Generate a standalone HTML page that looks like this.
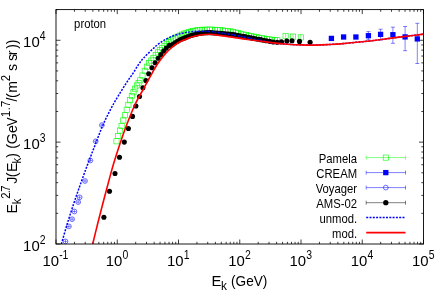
<!DOCTYPE html><html><head><meta charset="utf-8"><style>html,body{margin:0;padding:0;background:#fff;overflow:hidden}body{width:441px;height:294px;position:relative}svg{position:absolute;left:0;top:0;display:block;will-change:transform}</style></head><body><svg width="441" height="294" viewBox="0 0 441 294">
<rect width="441" height="294" fill="#fff"/>
<defs><clipPath id="c"><rect x="56.00" y="9.60" width="367.50" height="234.40"/></clipPath></defs>
<path d="M56.00,244.00v-4.50M56.00,9.60v4.50M74.44,244.00v-2.20M74.44,9.60v2.20M85.22,244.00v-2.20M85.22,9.60v2.20M92.88,244.00v-2.20M92.88,9.60v2.20M98.81,244.00v-2.20M98.81,9.60v2.20M103.66,244.00v-2.20M103.66,9.60v2.20M107.76,244.00v-2.20M107.76,9.60v2.20M111.31,244.00v-2.20M111.31,9.60v2.20M114.45,244.00v-2.20M114.45,9.60v2.20M117.25,244.00v-4.50M117.25,9.60v4.50M135.69,244.00v-2.20M135.69,9.60v2.20M146.47,244.00v-2.20M146.47,9.60v2.20M154.13,244.00v-2.20M154.13,9.60v2.20M160.06,244.00v-2.20M160.06,9.60v2.20M164.91,244.00v-2.20M164.91,9.60v2.20M169.01,244.00v-2.20M169.01,9.60v2.20M172.56,244.00v-2.20M172.56,9.60v2.20M175.70,244.00v-2.20M175.70,9.60v2.20M178.50,244.00v-4.50M178.50,9.60v4.50M196.94,244.00v-2.20M196.94,9.60v2.20M207.72,244.00v-2.20M207.72,9.60v2.20M215.38,244.00v-2.20M215.38,9.60v2.20M221.31,244.00v-2.20M221.31,9.60v2.20M226.16,244.00v-2.20M226.16,9.60v2.20M230.26,244.00v-2.20M230.26,9.60v2.20M233.81,244.00v-2.20M233.81,9.60v2.20M236.95,244.00v-2.20M236.95,9.60v2.20M239.75,244.00v-4.50M239.75,9.60v4.50M258.19,244.00v-2.20M258.19,9.60v2.20M268.97,244.00v-2.20M268.97,9.60v2.20M276.63,244.00v-2.20M276.63,9.60v2.20M282.56,244.00v-2.20M282.56,9.60v2.20M287.41,244.00v-2.20M287.41,9.60v2.20M291.51,244.00v-2.20M291.51,9.60v2.20M295.06,244.00v-2.20M295.06,9.60v2.20M298.20,244.00v-2.20M298.20,9.60v2.20M301.00,244.00v-4.50M301.00,9.60v4.50M319.44,244.00v-2.20M319.44,9.60v2.20M330.22,244.00v-2.20M330.22,9.60v2.20M337.88,244.00v-2.20M337.88,9.60v2.20M343.81,244.00v-2.20M343.81,9.60v2.20M348.66,244.00v-2.20M348.66,9.60v2.20M352.76,244.00v-2.20M352.76,9.60v2.20M356.31,244.00v-2.20M356.31,9.60v2.20M359.45,244.00v-2.20M359.45,9.60v2.20M362.25,244.00v-4.50M362.25,9.60v4.50M380.69,244.00v-2.20M380.69,9.60v2.20M391.47,244.00v-2.20M391.47,9.60v2.20M399.13,244.00v-2.20M399.13,9.60v2.20M405.06,244.00v-2.20M405.06,9.60v2.20M409.91,244.00v-2.20M409.91,9.60v2.20M414.01,244.00v-2.20M414.01,9.60v2.20M417.56,244.00v-2.20M417.56,9.60v2.20M420.70,244.00v-2.20M420.70,9.60v2.20M423.50,244.00v-4.50M423.50,9.60v4.50M56.00,244.00h4.50M423.50,244.00h-4.50M56.00,213.33h2.20M423.50,213.33h-2.20M56.00,195.40h2.20M423.50,195.40h-2.20M56.00,182.67h2.20M423.50,182.67h-2.20M56.00,172.80h2.20M423.50,172.80h-2.20M56.00,164.73h2.20M423.50,164.73h-2.20M56.00,157.91h2.20M423.50,157.91h-2.20M56.00,152.00h2.20M423.50,152.00h-2.20M56.00,146.79h2.20M423.50,146.79h-2.20M56.00,142.13h4.50M423.50,142.13h-4.50M56.00,111.47h2.20M423.50,111.47h-2.20M56.00,93.53h2.20M423.50,93.53h-2.20M56.00,80.80h2.20M423.50,80.80h-2.20M56.00,70.93h2.20M423.50,70.93h-2.20M56.00,62.86h2.20M423.50,62.86h-2.20M56.00,56.04h2.20M423.50,56.04h-2.20M56.00,50.14h2.20M423.50,50.14h-2.20M56.00,44.93h2.20M423.50,44.93h-2.20M56.00,40.27h4.50M423.50,40.27h-4.50M56.00,9.60h2.20M423.50,9.60h-2.20" stroke="#000" stroke-width="0.75" fill="none"/>
<rect x="113.90" y="138.70" width="5.2" height="5.2" fill="none" stroke="#0f0" stroke-width="0.6"/>
<rect x="115.60" y="133.40" width="5.2" height="5.2" fill="none" stroke="#0f0" stroke-width="0.6"/>
<rect x="117.30" y="127.93" width="5.2" height="5.2" fill="none" stroke="#0f0" stroke-width="0.6"/>
<rect x="119.00" y="123.40" width="5.2" height="5.2" fill="none" stroke="#0f0" stroke-width="0.6"/>
<rect x="120.70" y="117.81" width="5.2" height="5.2" fill="none" stroke="#0f0" stroke-width="0.6"/>
<rect x="122.40" y="112.71" width="5.2" height="5.2" fill="none" stroke="#0f0" stroke-width="0.6"/>
<rect x="124.10" y="107.06" width="5.2" height="5.2" fill="none" stroke="#0f0" stroke-width="0.6"/>
<rect x="125.80" y="102.18" width="5.2" height="5.2" fill="none" stroke="#0f0" stroke-width="0.6"/>
<rect x="127.50" y="97.67" width="5.2" height="5.2" fill="none" stroke="#0f0" stroke-width="0.6"/>
<rect x="129.20" y="93.42" width="5.2" height="5.2" fill="none" stroke="#0f0" stroke-width="0.6"/>
<rect x="130.90" y="89.62" width="5.2" height="5.2" fill="none" stroke="#0f0" stroke-width="0.6"/>
<rect x="132.60" y="86.04" width="5.2" height="5.2" fill="none" stroke="#0f0" stroke-width="0.6"/>
<rect x="134.30" y="82.86" width="5.2" height="5.2" fill="none" stroke="#0f0" stroke-width="0.6"/>
<rect x="136.00" y="80.48" width="5.2" height="5.2" fill="none" stroke="#0f0" stroke-width="0.6"/>
<rect x="137.70" y="77.71" width="5.2" height="5.2" fill="none" stroke="#0f0" stroke-width="0.6"/>
<rect x="139.90" y="72.92" width="5.2" height="5.2" fill="none" stroke="#0f0" stroke-width="0.6"/>
<rect x="142.10" y="68.24" width="5.2" height="5.2" fill="none" stroke="#0f0" stroke-width="0.6"/>
<rect x="144.30" y="64.06" width="5.2" height="5.2" fill="none" stroke="#0f0" stroke-width="0.6"/>
<rect x="146.50" y="60.48" width="5.2" height="5.2" fill="none" stroke="#0f0" stroke-width="0.6"/>
<rect x="148.70" y="57.96" width="5.2" height="5.2" fill="none" stroke="#0f0" stroke-width="0.6"/>
<rect x="150.90" y="55.31" width="5.2" height="5.2" fill="none" stroke="#0f0" stroke-width="0.6"/>
<rect x="153.10" y="52.54" width="5.2" height="5.2" fill="none" stroke="#0f0" stroke-width="0.6"/>
<rect x="155.30" y="49.80" width="5.2" height="5.2" fill="none" stroke="#0f0" stroke-width="0.6"/>
<rect x="157.50" y="47.60" width="5.2" height="5.2" fill="none" stroke="#0f0" stroke-width="0.6"/>
<rect x="159.70" y="45.40" width="5.2" height="5.2" fill="none" stroke="#0f0" stroke-width="0.6"/>
<rect x="161.90" y="43.33" width="5.2" height="5.2" fill="none" stroke="#0f0" stroke-width="0.6"/>
<rect x="164.10" y="41.38" width="5.2" height="5.2" fill="none" stroke="#0f0" stroke-width="0.6"/>
<rect x="166.30" y="39.46" width="5.2" height="5.2" fill="none" stroke="#0f0" stroke-width="0.6"/>
<rect x="168.50" y="37.92" width="5.2" height="5.2" fill="none" stroke="#0f0" stroke-width="0.6"/>
<rect x="170.70" y="36.39" width="5.2" height="5.2" fill="none" stroke="#0f0" stroke-width="0.6"/>
<rect x="172.90" y="35.15" width="5.2" height="5.2" fill="none" stroke="#0f0" stroke-width="0.6"/>
<rect x="175.10" y="34.05" width="5.2" height="5.2" fill="none" stroke="#0f0" stroke-width="0.6"/>
<rect x="177.30" y="32.98" width="5.2" height="5.2" fill="none" stroke="#0f0" stroke-width="0.6"/>
<rect x="179.50" y="32.01" width="5.2" height="5.2" fill="none" stroke="#0f0" stroke-width="0.6"/>
<rect x="181.70" y="31.03" width="5.2" height="5.2" fill="none" stroke="#0f0" stroke-width="0.6"/>
<rect x="183.90" y="30.34" width="5.2" height="5.2" fill="none" stroke="#0f0" stroke-width="0.6"/>
<rect x="186.10" y="29.69" width="5.2" height="5.2" fill="none" stroke="#0f0" stroke-width="0.6"/>
<rect x="188.30" y="29.10" width="5.2" height="5.2" fill="none" stroke="#0f0" stroke-width="0.6"/>
<rect x="190.50" y="28.61" width="5.2" height="5.2" fill="none" stroke="#0f0" stroke-width="0.6"/>
<rect x="192.70" y="28.12" width="5.2" height="5.2" fill="none" stroke="#0f0" stroke-width="0.6"/>
<rect x="194.90" y="27.63" width="5.2" height="5.2" fill="none" stroke="#0f0" stroke-width="0.6"/>
<rect x="197.10" y="27.28" width="5.2" height="5.2" fill="none" stroke="#0f0" stroke-width="0.6"/>
<rect x="199.30" y="27.22" width="5.2" height="5.2" fill="none" stroke="#0f0" stroke-width="0.6"/>
<rect x="201.90" y="27.15" width="5.2" height="5.2" fill="none" stroke="#0f0" stroke-width="0.6"/>
<rect x="204.50" y="27.08" width="5.2" height="5.2" fill="none" stroke="#0f0" stroke-width="0.6"/>
<rect x="207.10" y="27.01" width="5.2" height="5.2" fill="none" stroke="#0f0" stroke-width="0.6"/>
<rect x="209.70" y="27.11" width="5.2" height="5.2" fill="none" stroke="#0f0" stroke-width="0.6"/>
<rect x="212.30" y="27.23" width="5.2" height="5.2" fill="none" stroke="#0f0" stroke-width="0.6"/>
<rect x="214.90" y="27.35" width="5.2" height="5.2" fill="none" stroke="#0f0" stroke-width="0.6"/>
<rect x="217.50" y="27.59" width="5.2" height="5.2" fill="none" stroke="#0f0" stroke-width="0.6"/>
<rect x="220.10" y="27.91" width="5.2" height="5.2" fill="none" stroke="#0f0" stroke-width="0.6"/>
<rect x="222.70" y="28.24" width="5.2" height="5.2" fill="none" stroke="#0f0" stroke-width="0.6"/>
<rect x="225.30" y="28.56" width="5.2" height="5.2" fill="none" stroke="#0f0" stroke-width="0.6"/>
<rect x="227.90" y="28.89" width="5.2" height="5.2" fill="none" stroke="#0f0" stroke-width="0.6"/>
<rect x="230.50" y="29.32" width="5.2" height="5.2" fill="none" stroke="#0f0" stroke-width="0.6"/>
<rect x="233.10" y="29.97" width="5.2" height="5.2" fill="none" stroke="#0f0" stroke-width="0.6"/>
<rect x="235.70" y="30.62" width="5.2" height="5.2" fill="none" stroke="#0f0" stroke-width="0.6"/>
<rect x="238.30" y="31.27" width="5.2" height="5.2" fill="none" stroke="#0f0" stroke-width="0.6"/>
<rect x="240.90" y="31.92" width="5.2" height="5.2" fill="none" stroke="#0f0" stroke-width="0.6"/>
<rect x="243.50" y="32.56" width="5.2" height="5.2" fill="none" stroke="#0f0" stroke-width="0.6"/>
<rect x="246.10" y="33.08" width="5.2" height="5.2" fill="none" stroke="#0f0" stroke-width="0.6"/>
<rect x="248.70" y="33.59" width="5.2" height="5.2" fill="none" stroke="#0f0" stroke-width="0.6"/>
<rect x="251.30" y="34.11" width="5.2" height="5.2" fill="none" stroke="#0f0" stroke-width="0.6"/>
<rect x="253.90" y="34.62" width="5.2" height="5.2" fill="none" stroke="#0f0" stroke-width="0.6"/>
<rect x="256.50" y="35.14" width="5.2" height="5.2" fill="none" stroke="#0f0" stroke-width="0.6"/>
<rect x="259.10" y="35.61" width="5.2" height="5.2" fill="none" stroke="#0f0" stroke-width="0.6"/>
<rect x="261.70" y="36.07" width="5.2" height="5.2" fill="none" stroke="#0f0" stroke-width="0.6"/>
<rect x="264.30" y="36.47" width="5.2" height="5.2" fill="none" stroke="#0f0" stroke-width="0.6"/>
<rect x="266.90" y="36.83" width="5.2" height="5.2" fill="none" stroke="#0f0" stroke-width="0.6"/>
<rect x="269.50" y="37.20" width="5.2" height="5.2" fill="none" stroke="#0f0" stroke-width="0.6"/>
<rect x="272.10" y="37.47" width="5.2" height="5.2" fill="none" stroke="#0f0" stroke-width="0.6"/>
<rect x="274.70" y="37.70" width="5.2" height="5.2" fill="none" stroke="#0f0" stroke-width="0.6"/>
<rect x="283.00" y="33.30" width="5.2" height="5.2" fill="none" stroke="#0f0" stroke-width="0.6"/>
<rect x="290.50" y="34.00" width="5.2" height="5.2" fill="none" stroke="#0f0" stroke-width="0.6"/>
<rect x="298.20" y="34.80" width="5.2" height="5.2" fill="none" stroke="#0f0" stroke-width="0.6"/>
<path d="M285.60,33.40V38.60" stroke="#0f0" stroke-width="0.5" fill="none"/>
<path d="M293.10,33.80V39.60" stroke="#0f0" stroke-width="0.5" fill="none"/>
<path d="M300.80,34.20V40.80" stroke="#0f0" stroke-width="0.5" fill="none"/>
<circle cx="65.50" cy="241.40" r="2.4" fill="none" stroke="#00f" stroke-width="0.55"/><path d="M65.50,239.60v3.6M63.50,241.40h4" stroke="#00f" stroke-width="0.45" fill="none"/>
<circle cx="68.90" cy="226.40" r="2.4" fill="none" stroke="#00f" stroke-width="0.55"/><path d="M68.90,224.60v3.6M66.90,226.40h4" stroke="#00f" stroke-width="0.45" fill="none"/>
<circle cx="72.10" cy="219.20" r="2.4" fill="none" stroke="#00f" stroke-width="0.55"/><path d="M72.10,217.40v3.6M70.10,219.20h4" stroke="#00f" stroke-width="0.45" fill="none"/>
<circle cx="74.40" cy="211.50" r="2.4" fill="none" stroke="#00f" stroke-width="0.55"/><path d="M74.40,209.70v3.6M72.40,211.50h4" stroke="#00f" stroke-width="0.45" fill="none"/>
<circle cx="78.20" cy="202.10" r="2.4" fill="none" stroke="#00f" stroke-width="0.55"/><path d="M78.20,200.30v3.6M76.20,202.10h4" stroke="#00f" stroke-width="0.45" fill="none"/>
<circle cx="79.60" cy="197.30" r="2.4" fill="none" stroke="#00f" stroke-width="0.55"/><path d="M79.60,195.50v3.6M77.60,197.30h4" stroke="#00f" stroke-width="0.45" fill="none"/>
<circle cx="85.00" cy="181.00" r="2.4" fill="none" stroke="#00f" stroke-width="0.55"/><path d="M85.00,179.20v3.6M83.00,181.00h4" stroke="#00f" stroke-width="0.45" fill="none"/>
<circle cx="90.30" cy="160.50" r="2.4" fill="none" stroke="#00f" stroke-width="0.55"/><path d="M90.30,158.70v3.6M88.30,160.50h4" stroke="#00f" stroke-width="0.45" fill="none"/>
<circle cx="95.70" cy="141.30" r="2.4" fill="none" stroke="#00f" stroke-width="0.55"/><path d="M95.70,139.50v3.6M93.70,141.30h4" stroke="#00f" stroke-width="0.45" fill="none"/>
<circle cx="101.90" cy="125.10" r="2.4" fill="none" stroke="#00f" stroke-width="0.55"/><path d="M101.90,123.30v3.6M99.90,125.10h4" stroke="#00f" stroke-width="0.45" fill="none"/>
<rect x="328.75" y="35.75" width="5.3" height="5.3" fill="#00f"/>
<rect x="340.95" y="34.35" width="5.3" height="5.3" fill="#00f"/>
<rect x="353.25" y="34.35" width="5.3" height="5.3" fill="#00f"/>
<path d="M368.40,31.60V39.80M366.40,31.60h4M366.40,39.80h4" stroke="#00f" stroke-width="0.5" fill="none"/>
<rect x="365.75" y="33.05" width="5.3" height="5.3" fill="#00f"/>
<path d="M380.60,29.20V39.90M378.60,29.20h4M378.60,39.90h4" stroke="#00f" stroke-width="0.5" fill="none"/>
<rect x="377.95" y="31.75" width="5.3" height="5.3" fill="#00f"/>
<path d="M392.90,27.20V43.30M390.90,27.20h4M390.90,43.30h4" stroke="#00f" stroke-width="0.5" fill="none"/>
<rect x="390.25" y="32.05" width="5.3" height="5.3" fill="#00f"/>
<path d="M405.10,26.50V50.70M403.10,26.50h4M403.10,50.70h4" stroke="#00f" stroke-width="0.5" fill="none"/>
<rect x="402.45" y="34.25" width="5.3" height="5.3" fill="#00f"/>
<path d="M417.30,23.30V63.50M415.30,23.30h4M415.30,63.50h4" stroke="#00f" stroke-width="0.5" fill="none"/>
<rect x="414.65" y="36.25" width="5.3" height="5.3" fill="#00f"/>
<circle cx="103.90" cy="217.20" r="2.55" fill="#000"/>
<circle cx="109.50" cy="191.20" r="2.55" fill="#000"/>
<circle cx="115.00" cy="173.50" r="2.55" fill="#000"/>
<circle cx="119.50" cy="157.30" r="2.55" fill="#000"/>
<circle cx="124.30" cy="142.10" r="2.55" fill="#000"/>
<circle cx="128.40" cy="128.50" r="2.55" fill="#000"/>
<circle cx="132.50" cy="116.40" r="2.55" fill="#000"/>
<circle cx="135.90" cy="106.00" r="2.55" fill="#000"/>
<circle cx="139.50" cy="96.50" r="2.55" fill="#000"/>
<circle cx="142.90" cy="87.80" r="2.55" fill="#000"/>
<circle cx="145.90" cy="80.50" r="2.55" fill="#000"/>
<circle cx="148.70" cy="73.70" r="2.55" fill="#000"/>
<circle cx="152.10" cy="67.80" r="2.55" fill="#000"/>
<circle cx="155.20" cy="62.80" r="2.55" fill="#000"/>
<circle cx="158.20" cy="58.30" r="2.55" fill="#000"/>
<circle cx="160.90" cy="54.60" r="2.55" fill="#000"/>
<circle cx="163.60" cy="51.10" r="2.55" fill="#000"/>
<circle cx="166.30" cy="48.10" r="2.55" fill="#000"/>
<circle cx="169.30" cy="45.40" r="2.55" fill="#000"/>
<circle cx="172.47" cy="44.48" r="2.55" fill="#000"/>
<circle cx="175.03" cy="42.75" r="2.55" fill="#000"/>
<circle cx="177.54" cy="41.21" r="2.55" fill="#000"/>
<circle cx="180.02" cy="39.86" r="2.55" fill="#000"/>
<circle cx="182.42" cy="38.84" r="2.55" fill="#000"/>
<circle cx="184.72" cy="37.88" r="2.55" fill="#000"/>
<circle cx="187.03" cy="36.97" r="2.55" fill="#000"/>
<circle cx="189.33" cy="36.06" r="2.55" fill="#000"/>
<circle cx="191.62" cy="35.37" r="2.55" fill="#000"/>
<circle cx="193.87" cy="34.77" r="2.55" fill="#000"/>
<circle cx="196.08" cy="34.18" r="2.55" fill="#000"/>
<circle cx="198.26" cy="33.60" r="2.55" fill="#000"/>
<circle cx="200.44" cy="33.23" r="2.55" fill="#000"/>
<circle cx="202.62" cy="32.98" r="2.55" fill="#000"/>
<circle cx="204.73" cy="32.73" r="2.55" fill="#000"/>
<circle cx="206.83" cy="32.66" r="2.55" fill="#000"/>
<circle cx="208.90" cy="32.62" r="2.55" fill="#000"/>
<circle cx="210.94" cy="32.67" r="2.55" fill="#000"/>
<circle cx="212.98" cy="32.81" r="2.55" fill="#000"/>
<circle cx="215.00" cy="32.95" r="2.55" fill="#000"/>
<circle cx="217.02" cy="33.09" r="2.55" fill="#000"/>
<circle cx="219.00" cy="33.24" r="2.55" fill="#000"/>
<circle cx="220.98" cy="33.41" r="2.55" fill="#000"/>
<circle cx="222.95" cy="33.58" r="2.55" fill="#000"/>
<circle cx="224.91" cy="33.76" r="2.55" fill="#000"/>
<circle cx="226.85" cy="33.93" r="2.55" fill="#000"/>
<circle cx="228.81" cy="34.10" r="2.55" fill="#000"/>
<circle cx="230.76" cy="34.27" r="2.55" fill="#000"/>
<circle cx="232.70" cy="34.49" r="2.55" fill="#000"/>
<circle cx="234.64" cy="34.85" r="2.55" fill="#000"/>
<circle cx="236.58" cy="35.20" r="2.55" fill="#000"/>
<circle cx="238.53" cy="35.56" r="2.55" fill="#000"/>
<circle cx="240.53" cy="35.93" r="2.55" fill="#000"/>
<circle cx="242.52" cy="36.30" r="2.55" fill="#000"/>
<circle cx="244.48" cy="36.66" r="2.55" fill="#000"/>
<circle cx="246.52" cy="37.03" r="2.55" fill="#000"/>
<circle cx="248.69" cy="37.43" r="2.55" fill="#000"/>
<circle cx="250.96" cy="37.85" r="2.55" fill="#000"/>
<circle cx="253.30" cy="38.28" r="2.55" fill="#000"/>
<circle cx="255.73" cy="38.73" r="2.55" fill="#000"/>
<circle cx="258.23" cy="39.19" r="2.55" fill="#000"/>
<circle cx="260.82" cy="39.67" r="2.55" fill="#000"/>
<circle cx="263.56" cy="40.20" r="2.55" fill="#000"/>
<circle cx="266.52" cy="40.78" r="2.55" fill="#000"/>
<circle cx="269.76" cy="41.37" r="2.55" fill="#000"/>
<circle cx="273.28" cy="41.96" r="2.55" fill="#000"/>
<circle cx="277.15" cy="42.29" r="2.55" fill="#000"/>
<circle cx="281.49" cy="41.74" r="2.55" fill="#000"/>
<circle cx="286.86" cy="41.05" r="2.55" fill="#000"/>
<circle cx="292.00" cy="40.80" r="2.55" fill="#000"/>
<circle cx="299.50" cy="41.40" r="2.55" fill="#000"/>
<circle cx="310.10" cy="42.20" r="2.55" fill="#000"/>
<g clip-path="url(#c)">
<path d="M61.40,244.00 C62.37,240.67 65.17,230.67 67.20,224.00 C69.23,217.33 71.38,210.67 73.60,204.00 C75.82,197.33 78.13,190.67 80.50,184.00 C82.87,177.33 85.30,170.67 87.80,164.00 C90.30,157.33 92.90,150.67 95.50,144.00 C98.10,137.33 100.40,130.67 103.40,124.00 C106.40,117.33 109.78,110.67 113.50,104.00 C117.22,97.33 122.45,89.12 125.70,84.00 C128.95,78.88 130.82,76.62 133.00,73.30 C135.18,69.98 137.03,66.65 138.80,64.10 C140.57,61.55 141.67,60.15 143.60,58.00 C145.53,55.85 148.13,53.37 150.40,51.20 C152.67,49.03 154.93,46.82 157.20,45.00 C159.47,43.18 161.73,41.65 164.00,40.30 C166.27,38.95 168.53,37.88 170.80,36.90 C173.07,35.92 175.33,35.08 177.60,34.40 C179.87,33.72 182.20,33.23 184.40,32.80 C186.60,32.37 188.37,32.05 190.80,31.80 C193.23,31.55 195.80,31.35 199.00,31.30 C202.20,31.25 206.73,31.28 210.00,31.50 C213.27,31.72 214.90,32.07 218.60,32.60 C222.30,33.13 227.67,33.92 232.20,34.70 C236.73,35.48 241.27,36.38 245.80,37.30 C250.33,38.22 254.77,39.28 259.40,40.20 C264.03,41.12 268.97,42.13 273.60,42.80 C278.23,43.47 282.67,43.85 287.20,44.20 C291.73,44.55 296.00,44.75 300.80,44.90 C305.60,45.05 311.20,45.17 316.00,45.10 C320.80,45.03 325.07,44.75 329.60,44.50 C334.13,44.25 338.67,43.98 343.20,43.60 C347.73,43.22 352.33,42.63 356.80,42.20 C361.27,41.77 365.53,41.50 370.00,41.00 C374.47,40.50 379.07,39.80 383.60,39.20 C388.13,38.60 392.67,37.97 397.20,37.40 C401.73,36.83 406.42,36.35 410.80,35.80 C415.18,35.25 421.38,34.38 423.50,34.10" stroke="#00f" stroke-width="1.5" stroke-dasharray="2.0,1.3" fill="none"/>
<path d="M92.70,244.00 C93.52,240.67 95.93,230.67 97.60,224.00 C99.27,217.33 100.97,210.67 102.70,204.00 C104.43,197.33 106.20,190.67 108.00,184.00 C109.80,177.33 111.52,170.67 113.50,164.00 C115.48,157.33 117.65,150.67 119.90,144.00 C122.15,137.33 124.43,130.67 127.00,124.00 C129.57,117.33 132.45,110.03 135.30,104.00 C138.15,97.97 141.98,91.72 144.10,87.80 C146.22,83.88 146.60,83.05 148.00,80.50 C149.40,77.95 151.08,75.00 152.50,72.50 C153.92,70.00 155.10,67.72 156.50,65.50 C157.90,63.28 159.27,61.35 160.90,59.20 C162.53,57.05 164.47,54.57 166.30,52.60 C168.13,50.63 170.05,48.95 171.90,47.40 C173.75,45.85 175.35,44.55 177.40,43.30 C179.45,42.05 181.97,40.92 184.20,39.90 C186.43,38.88 188.33,37.98 190.80,37.20 C193.27,36.42 195.80,35.68 199.00,35.20 C202.20,34.72 206.73,34.28 210.00,34.30 C213.27,34.32 214.90,34.83 218.60,35.30 C222.30,35.77 227.67,36.45 232.20,37.10 C236.73,37.75 241.27,38.55 245.80,39.20 C250.33,39.85 254.77,40.38 259.40,41.00 C264.03,41.62 268.97,42.37 273.60,42.90 C278.23,43.43 282.67,43.87 287.20,44.20 C291.73,44.53 296.00,44.75 300.80,44.90 C305.60,45.05 311.20,45.17 316.00,45.10 C320.80,45.03 325.07,44.75 329.60,44.50 C334.13,44.25 338.67,43.98 343.20,43.60 C347.73,43.22 352.33,42.63 356.80,42.20 C361.27,41.77 365.53,41.50 370.00,41.00 C374.47,40.50 379.07,39.80 383.60,39.20 C388.13,38.60 392.67,37.97 397.20,37.40 C401.73,36.83 406.42,36.35 410.80,35.80 C415.18,35.25 421.38,34.38 423.50,34.10" stroke="#f00" stroke-width="1.6" fill="none"/>
</g>
<rect x="56.00" y="9.60" width="367.50" height="234.40" fill="none" stroke="#000" stroke-width="0.9"/>
<path d="M366.20,157.60H405.50M366.20,155.60v4M405.50,155.60v4" stroke="#0f0" stroke-width="0.5" fill="none"/>
<path d="M366.20,172.60H405.50M366.20,170.60v4M405.50,170.60v4" stroke="#00f" stroke-width="0.5" fill="none"/>
<path d="M366.20,187.60H405.50M366.20,185.60v4M405.50,185.60v4" stroke="#00f" stroke-width="0.5" fill="none"/>
<path d="M366.20,202.70H405.50M366.20,200.70v4M405.50,200.70v4" stroke="#000" stroke-width="0.5" fill="none"/>
<rect x="383.20" y="155.00" width="5.2" height="5.2" fill="none" stroke="#0f0" stroke-width="0.6"/>
<rect x="383.15" y="169.95" width="5.3" height="5.3" fill="#00f"/>
<circle cx="385.80" cy="187.60" r="2.4" fill="none" stroke="#00f" stroke-width="0.55"/>
<circle cx="385.80" cy="202.70" r="2.65" fill="#000"/>
<path d="M366.20,217.50H405.50" stroke="#00f" stroke-width="1.5" stroke-dasharray="2.0,1.3"/>
<path d="M366.20,232.60H405.50" stroke="#f00" stroke-width="1.6"/>
<g font-family="Liberation Sans, sans-serif" fill="#000">
<text transform="translate(357.10,162.80) scale(0.950,1)" font-size="11.90" text-anchor="end">Pamela</text>
<text transform="translate(357.10,177.80) scale(0.950,1)" font-size="11.90" text-anchor="end">CREAM</text>
<text transform="translate(357.10,192.80) scale(0.950,1)" font-size="11.90" text-anchor="end">Voyager</text>
<text transform="translate(357.10,207.90) scale(0.950,1)" font-size="11.90" text-anchor="end">AMS-02</text>
<text transform="translate(357.10,222.70) scale(0.950,1)" font-size="11.90" text-anchor="end">unmod.</text>
<text transform="translate(357.10,237.80) scale(0.950,1)" font-size="11.90" text-anchor="end">mod.</text>
<text transform="translate(74.10,28.00) scale(0.950,1)" font-size="11.90" text-anchor="start">proton</text>
<text transform="translate(42.46,265.80) scale(1.000,1)" font-size="14.90" text-anchor="start">10</text><text transform="translate(59.13,258.60) scale(0.880,1)" font-size="11.90" text-anchor="start">-1</text>
<text transform="translate(105.75,265.80) scale(1.000,1)" font-size="14.90" text-anchor="start">10</text><text transform="translate(122.42,258.60) scale(0.880,1)" font-size="11.90" text-anchor="start">0</text>
<text transform="translate(167.00,265.80) scale(1.000,1)" font-size="14.90" text-anchor="start">10</text><text transform="translate(183.67,258.60) scale(0.880,1)" font-size="11.90" text-anchor="start">1</text>
<text transform="translate(228.25,265.80) scale(1.000,1)" font-size="14.90" text-anchor="start">10</text><text transform="translate(244.92,258.60) scale(0.880,1)" font-size="11.90" text-anchor="start">2</text>
<text transform="translate(289.50,265.80) scale(1.000,1)" font-size="14.90" text-anchor="start">10</text><text transform="translate(306.17,258.60) scale(0.880,1)" font-size="11.90" text-anchor="start">3</text>
<text transform="translate(350.75,265.80) scale(1.000,1)" font-size="14.90" text-anchor="start">10</text><text transform="translate(367.42,258.60) scale(0.880,1)" font-size="11.90" text-anchor="start">4</text>
<text transform="translate(412.00,265.80) scale(1.000,1)" font-size="14.90" text-anchor="start">10</text><text transform="translate(428.67,258.60) scale(0.880,1)" font-size="11.90" text-anchor="start">5</text>
<text transform="translate(23.10,251.00) scale(1.000,1)" font-size="14.90" text-anchor="start">10</text><text transform="translate(39.77,243.80) scale(0.880,1)" font-size="11.90" text-anchor="start">2</text>
<text transform="translate(23.10,149.13) scale(1.000,1)" font-size="14.90" text-anchor="start">10</text><text transform="translate(39.77,141.93) scale(0.880,1)" font-size="11.90" text-anchor="start">3</text>
<text transform="translate(23.10,47.27) scale(1.000,1)" font-size="14.90" text-anchor="start">10</text><text transform="translate(39.77,40.07) scale(0.880,1)" font-size="11.90" text-anchor="start">4</text>
<text transform="translate(211.60,285.70) scale(1.000,1)" font-size="14.90" text-anchor="start">E</text>
<text transform="translate(221.00,289.90) scale(1.000,1)" font-size="11.90" text-anchor="start">k</text>
<text transform="translate(231.00,285.70) scale(0.915,1)" font-size="14.90" text-anchor="start">(GeV)</text>
<text transform="translate(16.60,213.61) rotate(-90) scale(0.950,1)" font-size="14.90">E</text>
<text transform="translate(20.80,204.31) rotate(-90) scale(0.950,1)" font-size="11.90">k</text>
<text transform="translate(9.60,198.72) rotate(-90) scale(0.950,1)" font-size="11.90">2</text>
<text transform="translate(9.60,193.28) rotate(-90) scale(0.950,1)" font-size="11.90">.</text>
<text transform="translate(9.60,191.83) rotate(-90) scale(0.950,1)" font-size="11.90">7</text>
<text transform="translate(16.60,183.87) rotate(-90) scale(0.950,1)" font-size="14.90">J</text>
<text transform="translate(16.60,177.13) rotate(-90) scale(0.950,1)" font-size="14.90">(</text>
<text transform="translate(16.60,171.91) rotate(-90) scale(0.950,1)" font-size="14.90">E</text>
<text transform="translate(20.80,163.61) rotate(-90) scale(0.950,1)" font-size="11.90">k</text>
<text transform="translate(16.60,157.83) rotate(-90) scale(0.950,1)" font-size="14.90">)</text>
<text transform="translate(16.60,148.73) rotate(-90) scale(0.950,1)" font-size="14.90">(</text>
<text transform="translate(16.60,144.16) rotate(-90) scale(0.950,1)" font-size="14.90">G</text>
<text transform="translate(16.60,133.05) rotate(-90) scale(0.950,1)" font-size="14.90">e</text>
<text transform="translate(16.60,125.91) rotate(-90) scale(0.860,1)" font-size="14.90">V</text>
<text transform="translate(9.60,117.01) rotate(-90) scale(0.950,1)" font-size="11.90">1</text>
<text transform="translate(9.60,110.18) rotate(-90) scale(0.950,1)" font-size="11.90">.</text>
<text transform="translate(9.60,106.93) rotate(-90) scale(0.950,1)" font-size="11.90">7</text>
<text transform="translate(16.60,101.45) rotate(-90) scale(0.950,1)" font-size="14.90">/</text>
<text transform="translate(16.60,98.03) rotate(-90) scale(0.950,1)" font-size="14.90">(</text>
<text transform="translate(16.60,92.79) rotate(-90) scale(0.950,1)" font-size="14.90">m</text>
<text transform="translate(9.60,81.32) rotate(-90) scale(0.950,1)" font-size="11.90">2</text>
<text transform="translate(16.60,71.04) rotate(-90) scale(0.950,1)" font-size="14.90">s</text>
<text transform="translate(16.60,60.94) rotate(-90) scale(0.950,1)" font-size="14.90">s</text>
<text transform="translate(16.60,55.29) rotate(-90) scale(0.950,1)" font-size="14.90">r</text>
<text transform="translate(16.60,48.63) rotate(-90) scale(0.950,1)" font-size="14.90">)</text>
<text transform="translate(16.60,44.33) rotate(-90) scale(0.950,1)" font-size="14.90">)</text>
</g></svg></body></html>
